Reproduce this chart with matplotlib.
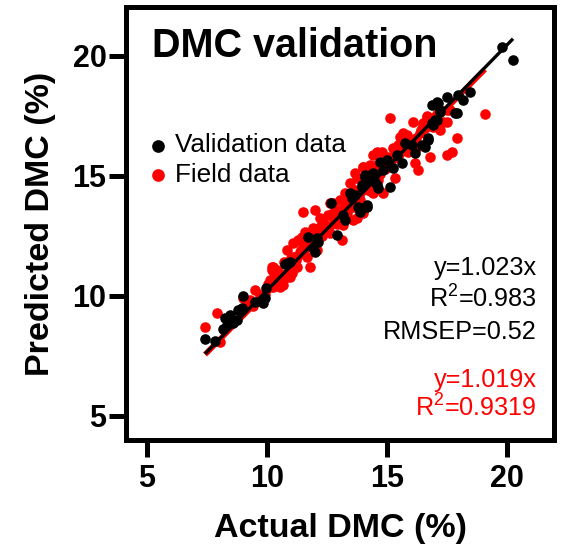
import numpy as np
import matplotlib
matplotlib.use("Agg")
import matplotlib.pyplot as plt

plt.rcParams['font.family'] = ['Liberation Sans', 'DejaVu Sans']
plt.rcParams['mathtext.default'] = 'regular'

# validation set (black): actual vs predicted DMC (%)
val_actual = [7.42, 7.83, 8.17, 8.25, 8.46, 8.58, 8.75, 8.79, 8.96, 9.0,
              9.5, 9.83, 9.92, 9.96, 10.75, 10.88, 8.38, 8.33,
              10.96, 11.71, 11.92, 12.08, 12.13, 12.0, 12.92, 12.67, 13.17, 13.25,
              13.46, 13.54, 13.79, 13.88, 13.96, 14.17, 14.08, 14.29, 14.42, 14.58,
              13.67, 13.88, 14.17, 13.96, 14.08, 14.29, 14.5, 14.63, 14.71, 14.83,
              15.0, 15.13, 15.25, 15.42, 15.63, 15.75, 16.04, 16.46, 16.58, 16.71,
              16.88, 17.08, 16.88, 17.08, 17.21, 17.5, 17.92, 16.17,
              19.79, 20.25, 18.46, 18.17, 17.96, 17.13, 17.21, 17.83, 17.0, 16.92, 16.71]
val_pred = [8.21, 8.13, 8.63, 9.08, 9.21, 8.88, 9.0, 9.42, 9.5, 10.0,
            9.75, 9.71, 9.92, 10.33, 11.33, 11.37, 9.0, 8.79,
            11.42, 12.46, 12.0, 12.42, 12.25, 11.83, 12.54, 13.88, 13.38, 13.17,
            14.29, 14.08, 13.71, 13.5, 14.63, 13.79, 15.04, 14.83, 15.13, 14.63,
            14.21, 13.67, 13.71, 14.54, 14.96, 15.04, 14.75, 14.5, 15.58, 15.25,
            15.67, 14.54, 15.33, 15.88, 15.54, 16.38, 16.29, 16.29, 16.21, 16.58,
            17.21, 17.33, 17.96, 18.08, 17.75, 18.29, 17.63, 15.96,
            20.38, 19.83, 18.5, 18.17, 18.38, 18.04, 17.67, 17.63, 17.33, 17.13, 16.5]

# field set (red)
field_actual = [7.42, 8.04, 7.92, 9.0, 9.5, 9.29, 10.13, 10.13, 10.21, 10.25,
                10.46, 10.54, 10.96, 11.08, 11.04, 10.42,
                11.5, 12.0, 11.29, 11.58, 11.79, 10.42, 10.67, 11.17, 10.96, 11.38,
                12.33, 12.54, 12.42, 12.75, 12.92, 13.13, 13.17, 13.33, 13.58, 13.75,
                13.38, 13.67, 13.79, 14.0, 13.67, 14.42, 12.63, 12.08, 11.5, 12.21,
                15.13, 16.08, 16.5, 16.67, 15.67, 15.83, 15.54, 14.58, 14.42, 14.0,
                13.75, 15.25, 16.25, 16.79, 17.5, 17.71, 17.92, 16.17, 16.29, 17.21,
                17.33, 17.63, 14.83, 15.33, 14.38, 13.67, 14.0,
                19.08, 16.67, 17.5, 16.5,
                10.42, 10.21, 10.83, 11.08, 11.46, 11.92, 12.21, 12.75, 13.04, 13.25,
                13.46, 14.29, 14.58, 13.54, 12.63, 12.92, 11.67, 11.25, 10.54, 10.25,
                10.33, 10.75, 10.96, 9.71, 9.17,
                14.29, 14.79, 15.04, 15.46, 15.88, 16.38, 16.92, 17.5, 13.88, 14.63, 14.21,
                8.5, 8.9, 9.4, 9.9, 10.05, 10.6, 10.9, 11.2, 11.4, 11.6,
                11.85, 12.05, 12.3, 12.45, 12.6, 12.8, 13.0, 13.1, 13.3, 13.5,
                13.65, 13.85, 14.1, 14.35, 14.5, 14.7, 14.9, 15.1, 15.3, 15.5,
                15.7, 15.95, 16.2, 16.4, 16.6, 16.85, 17.1, 12.2, 12.9, 13.6,
                11.0, 11.9, 14.9, 15.6, 10.7]
field_pred = [8.71, 8.08, 9.29, 9.92, 10.25, 9.83, 10.38, 10.67, 11.08, 11.21,
              10.96, 10.38, 11.08, 11.63, 10.96, 10.67,
              13.5, 13.58, 12.33, 12.67, 11.21, 11.08, 10.46, 11.63, 11.0, 11.83,
              13.08, 13.38, 12.75, 13.46, 13.58, 12.33, 12.96, 13.46, 13.17, 13.25,
              14.0, 14.42, 14.92, 15.38, 15.13, 14.29, 13.88, 11.92, 12.21, 12.88,
              17.42, 17.25, 17.21, 17.5, 16.79, 16.71, 16.63, 16.0, 15.88, 15.38,
              14.92, 16.17, 16.21, 15.79, 15.88, 16.0, 16.58, 15.54, 15.25, 16.92,
              17.25, 17.75, 14.29, 14.92, 14.33, 13.71, 13.46,
              17.58, 17.46, 17.25, 17.13,
              10.79, 11.21, 11.92, 12.21, 12.46, 12.83, 13.25, 13.88, 14.0, 14.29,
              14.71, 15.25, 15.46, 13.71, 12.63, 13.17, 11.63, 11.21, 10.67, 10.38,
              10.88, 10.75, 10.79, 10.04, 9.54,
              15.46, 16.0, 15.79, 16.29, 16.0, 16.79, 17.04, 17.75, 14.0, 14.83, 14.42,
              8.9, 9.3, 9.6, 10.1, 10.5, 10.9, 11.3, 11.5, 11.9, 12.0,
              12.3, 12.6, 12.5, 12.9, 12.9, 13.2, 13.3, 13.6, 13.8, 13.9,
              14.1, 14.2, 14.6, 14.8, 15.0, 15.1, 15.3, 15.6, 15.8, 15.9,
              16.1, 16.4, 16.6, 16.9, 17.0, 17.4, 17.6, 12.5, 13.0, 14.0,
              11.6, 12.4, 15.6, 16.4, 11.4]

val_slope = 1.023
field_slope = 1.019
val_stats = ['y=1.023x', 'R$^2$=0.983', 'RMSEP=0.52']
field_stats = ['y=1.019x', 'R$^2$=0.9319']

fig = plt.figure(figsize=(5.67, 5.49), dpi=100)
ax = fig.add_axes([0.2222, 0.1986, 0.755, 0.7887])

ax.scatter(field_actual, field_pred, s=58, color='#ff0000', linewidths=0, label='Field data', zorder=2)
fx = np.array([min(field_actual), max(field_actual)])
ax.plot(fx, field_slope * fx, color='#ff0000', lw=4, solid_capstyle='butt', zorder=3)
vx = np.array([min(val_actual), max(val_actual)])
ax.plot(vx, val_slope * vx, color='black', lw=2.4, solid_capstyle='butt', zorder=4)
ax.scatter(val_actual, val_pred, s=58, color='black', linewidths=0, label='Validation data', zorder=5)

ax.set_xlim(4.125, 21.96)
ax.set_ylim(4.0, 22.04)
ax.set_xticks([5, 10, 15, 20])
ax.set_yticks([5, 10, 15, 20])
for sp in ax.spines.values():
    sp.set_linewidth(3.6)
ax.tick_params(direction='out', length=12, width=3.6, labelsize=22)
ax.tick_params(axis='x', pad=5)
ax.tick_params(axis='y', pad=2)
for lab in ax.get_xticklabels() + ax.get_yticklabels():
    lab.set_fontweight('bold')

ax.set_xlabel('Actual DMC (%)', fontsize=24.5, fontweight='bold', labelpad=14)
ax.set_ylabel('Predicted DMC (%)', fontsize=24.5, fontweight='bold', labelpad=12)

ax.text(0.0607, 0.8845, 'DMC validation', transform=ax.transAxes, fontsize=28.5,
        fontweight='bold', va='baseline', ha='left')

handles, labels = ax.get_legend_handles_labels()
ax.legend(handles[::-1], labels[::-1], loc='upper left', bbox_to_anchor=(0.0502, 0.708),
          frameon=False, fontsize=18.8, markerscale=1.2, handlelength=0.8,
          handletextpad=0.25, labelspacing=0.2, borderpad=0, borderaxespad=0)

for txt, yy in zip(val_stats, [0.381, 0.305, 0.233]):
    ax.text(0.960, yy, txt, transform=ax.transAxes, fontsize=18.2, ha='right', va='baseline')
for txt, yy in zip(field_stats, [0.122, 0.053]):
    ax.text(0.960, yy, txt, transform=ax.transAxes, fontsize=18.2, ha='right', va='baseline',
            color='#ff0000')

fig.savefig('out.png', dpi=100)
